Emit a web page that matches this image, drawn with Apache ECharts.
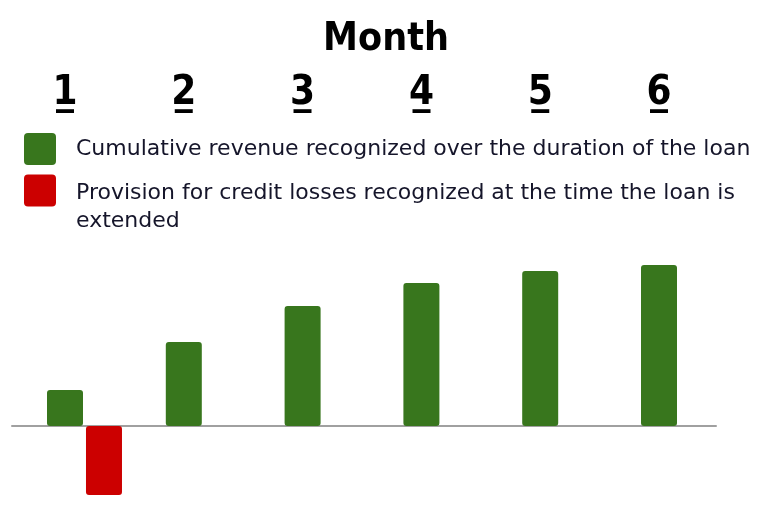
<!DOCTYPE html>
<html>
<head>
<meta charset="utf-8">
<script src="https://cdn.jsdelivr.net/npm/echarts@6/dist/echarts.min.js"></script>
<style>html,body{margin:0;padding:0;background:#fff;}#c{width:772px;height:517px;}</style>
</head>
<body>
<div id="c"></div>
<script>
const months = ['1', '2', '3', '4', '5', '6'];
const revenue = [36, 84, 120, 143, 155, 161];
const provision = [-69, '-', '-', '-', '-', '-'];
const revenueName = 'Cumulative revenue recognized over the duration of the loan';
const provisionName = 'Provision for credit losses recognized at the time the loan is extended';
const yMin = -74, yMax = 186;

const chart = echarts.init(document.getElementById('c'), null, {renderer: 'canvas'});
const headFont = "'DejaVu Sans Condensed', 'Liberation Sans Narrow', 'Liberation Sans', sans-serif";
const bodyFont = "'DejaVu Sans', 'Noto Sans', sans-serif";
const labelFont = {fontFamily: headFont, fontWeight: 'bold', fontSize: 40, color: '#000'};
const iconPath = 'path://M4,0 H28 Q32,0 32,4 V28 Q32,32 28,32 H4 Q0,32 0,28 V4 Q0,0 4,0 Z';
chart.setOption({
  animation: false,
  title: {
    text: 'Month', left: 'center', top: 15,
    textStyle: {fontFamily: headFont, fontWeight: 'bold', fontSize: 39, color: '#000'}
  },
  legend: [{
    data: [revenueName], orient: 'vertical', left: 24, top: 133, padding: 0,
    icon: iconPath, itemWidth: 32, itemHeight: 32,
    formatter: function (n) { return '{t|' + n + '}'; },
    textStyle: {fontFamily: bodyFont, fontSize: 22, color: '#15152a',
      rich: {t: {fontFamily: bodyFont, fontSize: 22, color: '#15152a', padding: [0, 0, 0, 15]}}}
  }, {
    data: [provisionName], orient: 'vertical', left: 24, top: 162, padding: 0,
    icon: iconPath, itemWidth: 32, itemHeight: 32,
    formatter: function (n) {
      const parts = n.split(' extended');
      return '{s| }\n{t|' + parts[0] + '}\n{t|extended}';
    },
    textStyle: {fontFamily: bodyFont, fontSize: 22, color: '#15152a',
      rich: {
        s: {fontSize: 1, lineHeight: 34},
        t: {fontFamily: bodyFont, fontSize: 22, lineHeight: 28, color: '#15152a', padding: [0, 0, 0, 15]}
      }}
  }],
  grid: [
    {left: 5.6, right: 53.6, top: 240, bottom: 17},
    {left: 12, right: 56, top: 240, bottom: 17}
  ],
  xAxis: [
    {type: 'category', gridIndex: 0, position: 'top', data: months,
     axisLine: {show: false}, axisTick: {show: false},
     axisLabel: Object.assign({margin: 126}, labelFont)},
    {type: 'category', gridIndex: 0, position: 'top', data: months.map(() => '_'),
     axisLine: {show: false}, axisTick: {show: false},
     axisLabel: Object.assign({margin: 127}, labelFont)},
    {type: 'category', gridIndex: 1, data: months,
     axisLine: {show: true, onZero: true, lineStyle: {color: '#a0a0a0', width: 2}},
     axisTick: {show: false}, axisLabel: {show: false}}
  ],
  yAxis: [
    {type: 'value', gridIndex: 0, min: yMin, max: yMax, show: false, splitLine: {show: false}},
    {type: 'value', gridIndex: 1, min: yMin, max: yMax, show: false, splitLine: {show: false}}
  ],
  series: [
    {name: 'spacer', type: 'bar', xAxisIndex: 0, yAxisIndex: 0, data: months.map(() => '-'), barWidth: 36, barGap: '8.3%'},
    {name: revenueName, type: 'bar', xAxisIndex: 0, yAxisIndex: 0, data: revenue, barWidth: 36, barGap: '8.3%',
     itemStyle: {color: '#38761d', borderRadius: 3}},
    {name: provisionName, type: 'bar', xAxisIndex: 0, yAxisIndex: 0, data: provision, barWidth: 36, barGap: '8.3%',
     itemStyle: {color: '#cc0000', borderRadius: 3}}
  ]
});
</script>
</body>
</html>
